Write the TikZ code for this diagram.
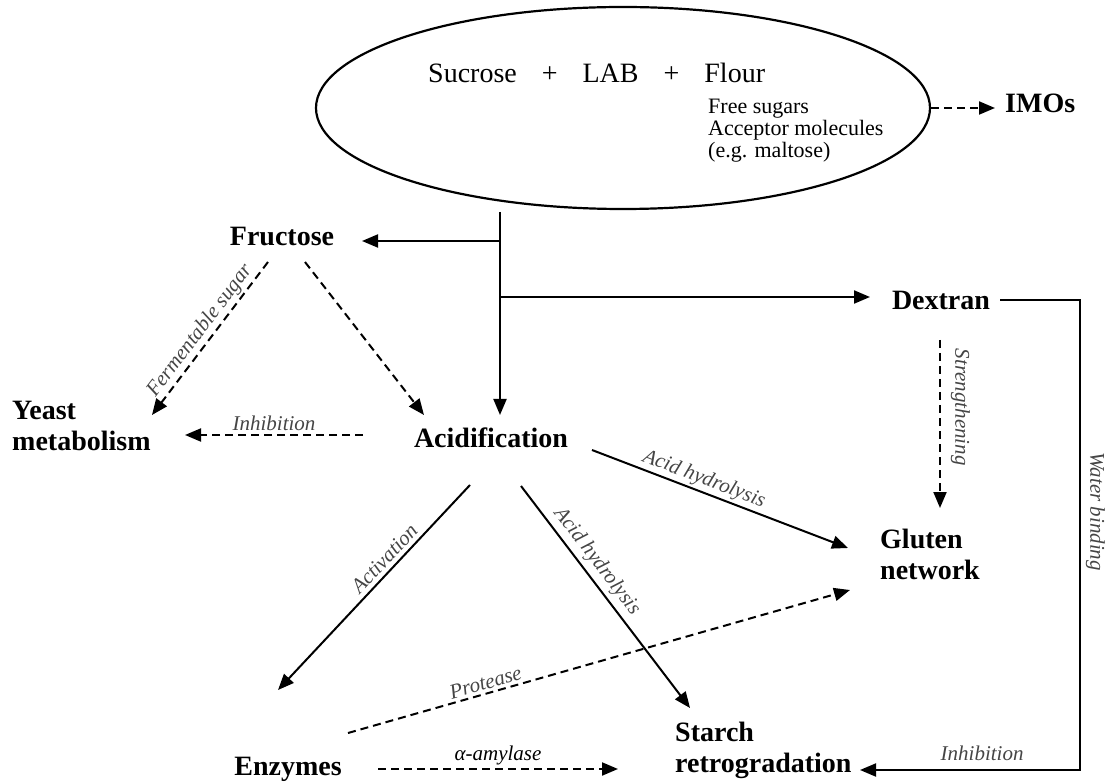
\documentclass[tikz,border=0pt]{standalone}
\usepackage{fontspec}
\setmainfont{Liberation Serif}
\usepackage{tikz}
\usetikzlibrary{
arrows.meta,
positioning,
shapes.geometric,
calc
}
\definecolor{labelgray}{HTML}{454545}

\begin{document}
\begin{tikzpicture}[
x=1pt,y=-1pt,
main/.style={
font=\fontsize{28}{31}\selectfont\bfseries,
inner sep=0pt,
align=left
},
lbl/.style={
font=\fontsize{21}{23}\selectfont\itshape,
text=labelgray,
inner sep=3pt
},
arrow/.style={-{Triangle[length=16pt,width=13pt]},line width=2pt},
darrow/.style={arrow,dash pattern=on 8pt off 5pt}
]
\useasboundingbox (0,0) rectangle (1111,783);

% starting mixture
\node[draw,ellipse,line width=2.2pt,minimum width=614pt,minimum height=202pt,inner sep=0pt] (mix) at (623,108) {};
\node[anchor=base west,inner sep=0pt,font=\fontsize{28}{31}\selectfont] (ingr) at (428,83)
{Sucrose\hspace{25pt}+\hspace{25pt}LAB\hspace{25pt}+\hspace{25pt}Flour};
\node[anchor=base west,inner sep=0pt,align=left,font=\fontsize{22}{22}\selectfont] (flour) at (708,158)
{Free sugars\\Acceptor molecules\\(e.g. maltose)};

\node[main,anchor=base west] (imos) at (1005,113) {IMOs};
\node[main,anchor=base] (fructose) at (282,246) {Fructose};
\node[main,anchor=base] (dextran) at (941,310) {Dextran};
\node[main,anchor=base west] (yeast) at (12,450) {Yeast\\metabolism};
\node[main,anchor=base] (acid) at (491,447) {Acidification};
\node[main,anchor=base west] (gluten) at (880,579) {Gluten\\network};
\node[main,anchor=base] (enzymes) at (288,775) {Enzymes};
\node[main,anchor=base west] (starch) at (675,772) {Starch\\retrogradation};

\coordinate (split) at ($(mix)+(-123,104)$);

% main trunk
\draw[arrow] (split) -- ($(acid.base)+(9,-32)$);
\draw[arrow] (split |- 0,241) -- ($(fructose.base)+(80,-5)$);
\draw[arrow] (split |- 0,297) -- ($(dextran.base)+(-71,-13)$);
\draw[darrow] (mix.east) -- ($(imos.base west)+(-10,-5)$);

% fructose
\draw[darrow] ($(fructose.base)+(-14,16)$) -- node[lbl,sloped,above,inner sep=2pt] {Fermentable sugar} ($(yeast.base west)+(140,-35)$);
\draw[darrow] ($(fructose.base)+(23,16)$) -- ($(acid.base)+(-67,-32)$);

% acidification
\draw[darrow] ($(acid.base)+(-128,-12)$) -- node[lbl,above] {Inhibition} ($(yeast.base west)+(173,-15)$);
\draw[arrow] ($(acid.base)+(101,3)$) -- node[lbl,sloped,above,pos=0.42,inner sep=2pt] {Acid hydrolysis} ($(gluten.base west)+(-32,-31)$);
\draw[arrow] ($(acid.base)+(-21,38)$) -- node[lbl,sloped,above,pos=0.4,inner sep=4pt] {Activation} ($(enzymes.base)+(-10,-85)$);
\draw[arrow] ($(acid.base)+(30,39)$) -- node[lbl,sloped,above,pos=0.38,inner sep=4pt] {Acid hydrolysis} ($(starch.base west)+(15,-64)$);

% dextran
\draw[darrow] ($(dextran.base)+(-1,30)$) -- node[lbl,pos=0.4,rotate=-90,anchor=south,inner ysep=10pt] {Strengthening} ($(gluten.base west)+(60,-71)$);
\draw[arrow] ($(dextran.base)+(59,-10)$) -| node[lbl,pos=0.725,rotate=-90,anchor=south,inner ysep=5pt] {Water binding} ($(starch.base west)+(405,-2)$)
-- node[lbl,pos=0.445,above=5pt] {Inhibition} ($(starch.base west)+(185,-2)$);

% enzymes
\draw[darrow] ($(enzymes.base)+(60,-42)$) -- node[lbl,sloped,above,pos=0.28] {Protease} ($(gluten.base west)+(-30,11)$);
\draw[darrow] ($(enzymes.base)+(90,-6)$) -- node[lbl,above,text=black] {α-amylase} ($(starch.base west)+(-57,-3)$);

\end{tikzpicture}
\end{document}
